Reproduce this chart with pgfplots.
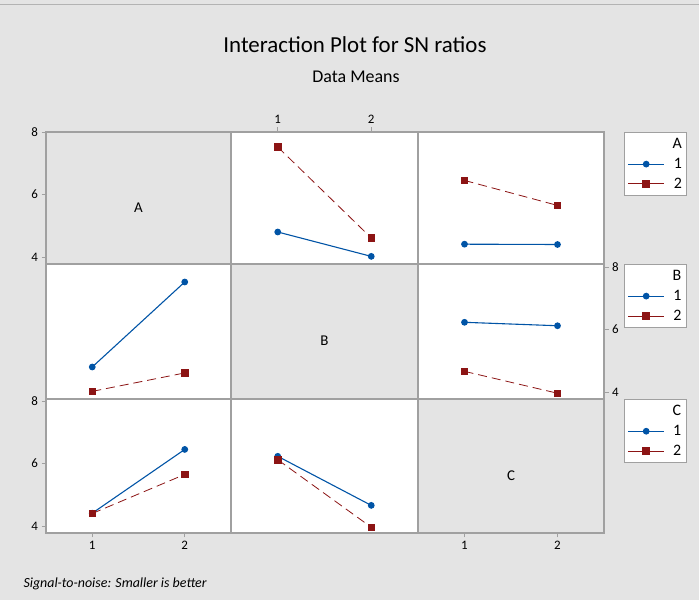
\documentclass[border=0pt]{standalone}
\usepackage{pgfplots}
\pgfplotsset{compat=1.18}
\usepackage{fontspec}
\setmainfont{Carlito}
\definecolor{bg}{RGB}{228,228,228}
\definecolor{frame}{RGB}{160,160,160}
\definecolor{mblue}{RGB}{0,84,166}
\definecolor{mred}{RGB}{140,20,20}
\pgfplotsset{
  panel/.style={scale only axis, xmin=0.5, xmax=2.5, ymin=3.776,
    axis line style={frame, line width=1.1pt},
    xtick=\empty, ytick=\empty,
    tick style={frame, line width=0.8pt}, tick align=outside, major tick length=4.5bp,
    ticklabel style={font=\fontsize{13}{15}\selectfont},
    /pgf/number format/assume math mode=true,
    clip=false},
  diag/.style={panel, axis background/.style={fill=bg}},
  plt/.style={panel, axis background/.style={fill=white}},
  s1/.style={mblue, line width=1.1pt, mark=*, mark size=2.8bp, mark options={solid}},
  s2/.style={mred, line width=0.8pt, dash pattern=on 9bp off 5bp, mark=square*, mark size=3.3bp, mark options={solid}},
  leg/.style={legend style={at={(1.108,1)}, anchor=north west, draw=frame, line width=1.1pt,
      fill=white, font=\fontsize{16}{18}\selectfont, inner xsep=3bp, inner ysep=4bp,
      row sep=4bp, column sep=6bp},
    legend cell align=right,
    legend image code/.code={%
      \draw[mark repeat=2,mark phase=2] plot coordinates {(0bp,0bp) (18bp,0bp) (36bp,0bp)};}},
  row1/.style={height=132bp, ymax=8.0},
  row2/.style={height=135bp, ymax=8.096},
  row3/.style={height=134bp, ymax=8.064},
  col1/.style={width=185bp},
  col2/.style={width=187bp},
  col3/.style={width=186bp},
}
\begin{document}
\begin{tikzpicture}
\useasboundingbox (0,0) rectangle (699bp,600bp);
\fill[bg] (0,0) rectangle (699bp,600bp);
\draw[frame!80, line width=0.7bp] (0,596bp) -- (699bp,596bp);
\node[anchor=base, font=\fontsize{23}{27}\selectfont] at (355bp,547bp) {Interaction Plot for SN ratios};
\node[anchor=base, font=\fontsize{18}{21}\selectfont] at (356bp,517bp) {Data Means};
\node[anchor=base west, font=\itshape\fontsize{14}{16}\selectfont] at (20bp,13bp) {Signal-to-noise: Smaller is better};

% ---------- Row 1 (legend A) ----------
\begin{axis}[diag, row1, col1, at={(46bp,336bp)}, anchor=south west,
  ytick={4,6,8}, ytick pos=left, yticklabel pos=left]
\node[font=\fontsize{15}{17}\selectfont] at (rel axis cs:0.5,0.43) {A};
\end{axis}
\begin{axis}[plt, row1, col2, at={(231bp,336bp)}, anchor=south west,
  xtick={1,2}, xtick pos=upper, xticklabel pos=upper]
\addplot[s1] coordinates {(1,4.80) (2,4.02)};
\addplot[s2] coordinates {(1,7.52) (2,4.61)};
\end{axis}
\begin{axis}[plt, row1, col3, leg, at={(418bp,336bp)}, anchor=south west]
\addplot[s1, forget plot] coordinates {(1,4.41) (2,4.40)};
\addplot[s2, forget plot] coordinates {(1,6.45) (2,5.65)};
\addlegendimage{empty legend}\addlegendentry{A}
\addlegendimage{s1}\addlegendentry{1}
\addlegendimage{s2, solid}\addlegendentry{2}
\end{axis}

% ---------- Row 2 (legend B) ----------
\begin{axis}[plt, row2, col1, at={(46bp,201bp)}, anchor=south west]
\addplot[s1] coordinates {(1,4.80) (2,7.52)};
\addplot[s2] coordinates {(1,4.02) (2,4.61)};
\end{axis}
\begin{axis}[diag, row2, col2, at={(231bp,201bp)}, anchor=south west]
\node[font=\fontsize{15}{17}\selectfont] at (rel axis cs:0.5,0.43) {B};
\end{axis}
\begin{axis}[plt, row2, col3, leg, at={(418bp,201bp)}, anchor=south west,
  ytick={4,6,8}, ytick pos=right, yticklabel pos=right]
\addplot[s1, forget plot] coordinates {(1,6.23) (2,6.12)};
\addplot[s2, forget plot] coordinates {(1,4.66) (2,3.96)};
\addlegendimage{empty legend}\addlegendentry{B}
\addlegendimage{s1}\addlegendentry{1}
\addlegendimage{s2, solid}\addlegendentry{2}
\end{axis}

% ---------- Row 3 (legend C) ----------
\begin{axis}[plt, row3, col1, at={(46bp,67bp)}, anchor=south west,
  xtick={1,2}, xtick pos=lower, xticklabel pos=lower,
  ytick={4,6,8}, ytick pos=left, yticklabel pos=left]
\addplot[s1] coordinates {(1,4.41) (2,6.45)};
\addplot[s2] coordinates {(1,4.40) (2,5.65)};
\end{axis}
\begin{axis}[plt, row3, col2, at={(231bp,67bp)}, anchor=south west]
\addplot[s1] coordinates {(1,6.23) (2,4.66)};
\addplot[s2] coordinates {(1,6.12) (2,3.96)};
\end{axis}
\begin{axis}[diag, row3, col3, leg, at={(418bp,67bp)}, anchor=south west,
  xtick={1,2}, xtick pos=lower, xticklabel pos=lower]
\node[font=\fontsize{15}{17}\selectfont] at (rel axis cs:0.5,0.43) {C};
\addlegendimage{empty legend}\addlegendentry{C}
\addlegendimage{s1}\addlegendentry{1}
\addlegendimage{s2, solid}\addlegendentry{2}
\end{axis}
\end{tikzpicture}
\end{document}
